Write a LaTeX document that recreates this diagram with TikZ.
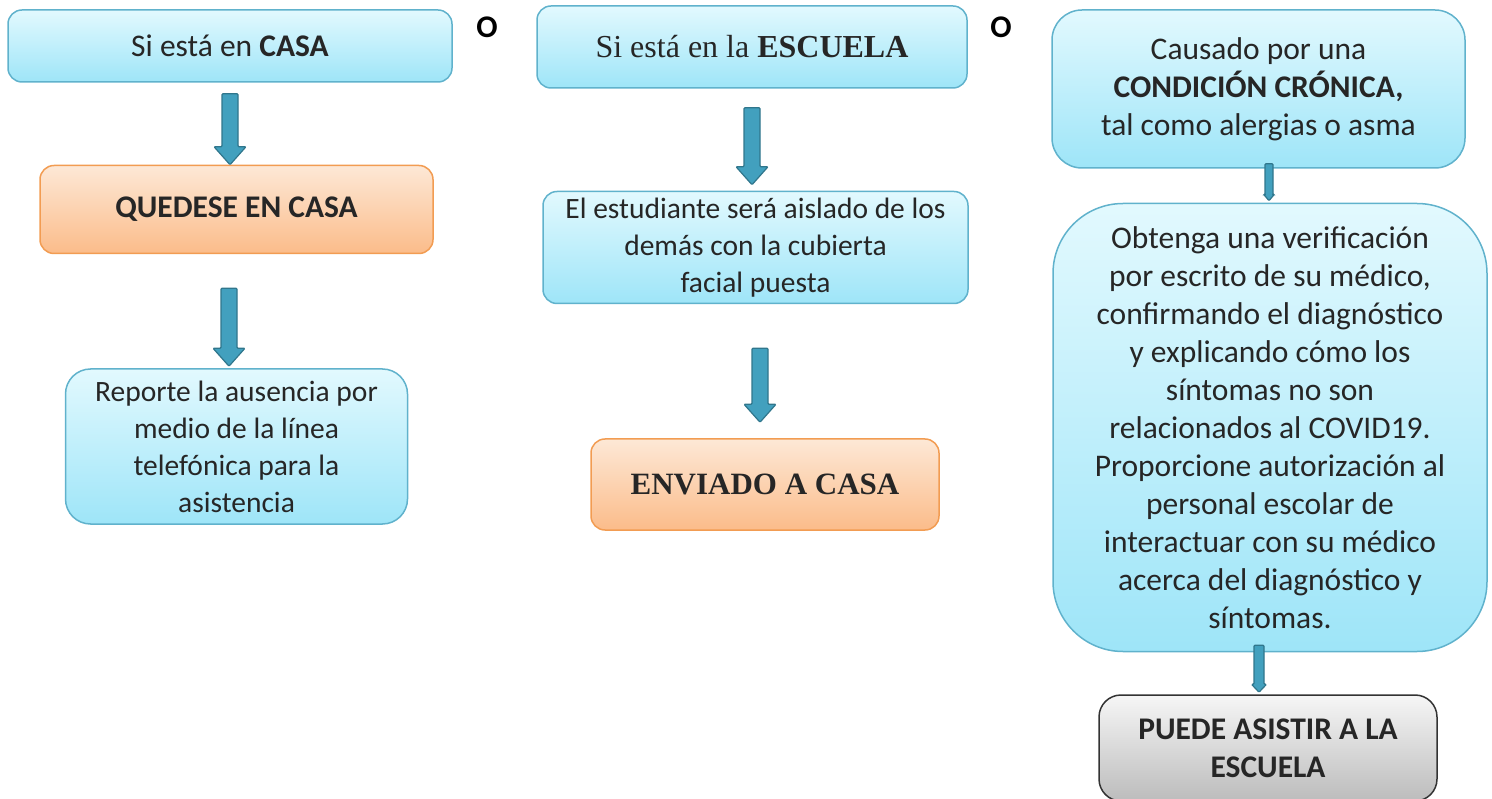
\documentclass[tikz,border=0pt]{standalone}
\usepackage{fontspec}
\setmainfont{Carlito}
\newfontfamily\timesfont{Liberation Serif}
\usetikzlibrary{positioning,calc}
\definecolor{boxblue}{RGB}{158,229,248}
\definecolor{boxbluetop}{RGB}{226,249,254}
\definecolor{boxblueline}{RGB}{96,178,204}
\definecolor{boxorange}{RGB}{251,188,138}
\definecolor{boxorangetop}{RGB}{253,232,214}
\definecolor{boxorangeline}{RGB}{242,156,82}
\definecolor{boxgray}{RGB}{188,188,188}
\definecolor{boxgraytop}{RGB}{246,246,246}
\definecolor{arrowfill}{RGB}{66,160,190}
\definecolor{arrowline}{RGB}{48,118,140}
\tikzset{
  box/.style={draw, line width=1.5pt, rounded corners=14pt, inner sep=0pt,
    font=\fontsize{31.5}{38}\selectfont, text=black!85},
  smalltext/.style={font=\fontsize{29.5}{37}\selectfont},
  bluebox/.style={box, draw=boxblueline, top color=boxbluetop, bottom color=boxblue},
  orangebox/.style={box, draw=boxorangeline, top color=boxorangetop, bottom color=boxorange},
  graybox/.style={box, draw=black!80, top color=boxgraytop, bottom color=boxgray},
  blockarrow/.style n args={3}{draw=arrowline, fill=arrowfill, line width=1.2pt,
    rounded corners=1pt, to path={let \p1=(\tikztostart), \p2=(\tikztotarget) in
      (\x1-#1,\y1) -- (\x1-#1,\y2+#3) -- (\x1-#2,\y2+#3) -- (\x1,\y2)
      -- (\x1+#2,\y2+#3) -- (\x1+#1,\y2+#3) -- (\x1+#1,\y1) -- cycle}},
  bigarrow/.style={blockarrow={8pt}{16pt}{18pt}},
  orlabel/.style={font=\fontsize{31.5}{38}\selectfont\bfseries}
}

\begin{document}
\begin{tikzpicture}[x=1pt, y=-1pt, every node/.style={align=center}]
  \useasboundingbox (0,0) rectangle (1492,799);

  % casa
  \node[bluebox, minimum width=444pt, minimum height=72pt] (casa) at (230,46)
    {Si está en \textbf{CASA}};
  \node[orangebox, minimum width=393pt, minimum height=88pt, below=82pt of casa, xshift=6.5pt] (quedese)
    {\textbf{QUEDESE EN CASA}};
  \node[bluebox, smalltext, rounded corners=25pt, minimum width=342pt, minimum height=155pt, below=114pt of quedese] (reporte)
    {Reporte la ausencia por\\medio de la línea\\telefónica para la\\asistencia};

  % escuela
  \node[bluebox, minimum width=430pt, minimum height=82pt, font=\fontsize{32}{38}\timesfont] (escuela) at (752,47)
    {Si está en la \textbf{ESCUELA}};
  \node[bluebox, smalltext, minimum width=425pt, minimum height=112pt, below=102pt of escuela, xshift=3.5pt] (aislado)
    {El estudiante será aislado de los\\demás con la cubierta\\facial puesta};
  \node[orangebox, minimum width=348pt, minimum height=91pt, below=134pt of aislado, xshift=9.5pt,
    font=\fontsize{31}{38}\timesfont] (enviado) {\textbf{ENVIADO A CASA}};

  % condicion cronica
  \node[bluebox, rounded corners=30pt, minimum width=413pt, minimum height=158pt] (causado) at (1258.5,89)
    {Causado por una\\\textbf{CONDICIÓN CRÓNICA,}\\tal como alergias o asma};
  \node[bluebox, rounded corners=70pt, minimum width=434pt, minimum height=448pt, below=34pt of causado, xshift=11.5pt] (obtenga)
    {Obtenga una verificación\\por escrito de su médico,\\confirmando el diagnóstico\\y explicando cómo los\\síntomas no son\\relacionados al COVID19.\\Proporcione autorización al\\personal escolar de\\interactuar con su médico\\acerca del diagnóstico y\\síntomas.};
  \node[graybox, rounded corners=22pt, minimum width=338pt, minimum height=106pt, below=42pt of obtenga, xshift=-2pt] (puede)
    {\textbf{PUEDE ASISTIR A LA}\\\textbf{ESCUELA}};

  \node[orlabel] (o1) at (487,27) {O};
  \node[orlabel] (o2) at (1001,27) {O};

  \draw[bigarrow] ([yshift=-11pt]casa.south) to (quedese.north);
  \draw[bigarrow] ([xshift=-7.5pt,yshift=-34pt]quedese.south) to ([yshift=2pt]reporte.north);
  \draw[bigarrow] ([yshift=-19pt]escuela.south) to ([yshift=6pt]aislado.north);
  \draw[bigarrow] ([xshift=4.5pt,yshift=-44pt]aislado.south) to ([xshift=-5pt,yshift=16pt]enviado.north);
  \draw[blockarrow={4pt}{5pt}{6pt}] ([xshift=10.5pt,yshift=5pt]causado.south) to ([yshift=2pt]obtenga.north);
  \draw[blockarrow={5pt}{7.5pt}{8pt}] ([xshift=-11pt,yshift=7pt]obtenga.south) to ([yshift=2pt]puede.north);
\end{tikzpicture}
\end{document}
